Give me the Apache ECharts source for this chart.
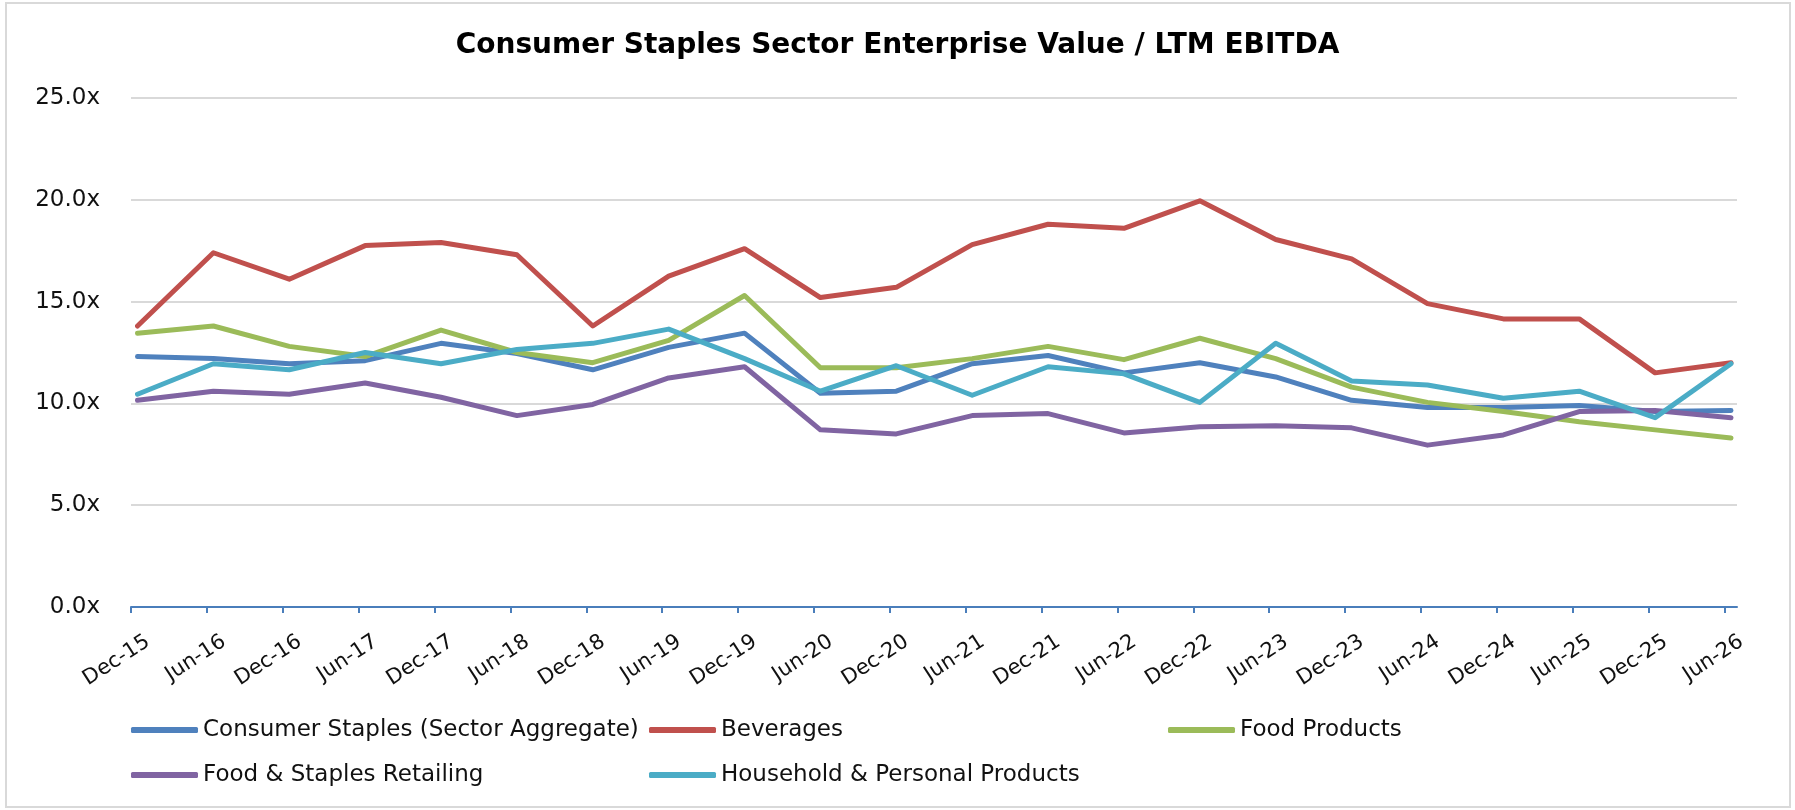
<!DOCTYPE html>
<html>
<head>
<meta charset="utf-8">
<script src="https://cdn.jsdelivr.net/npm/echarts@6/dist/echarts.min.js"></script>
<style>
  html, body { margin: 0; padding: 0; background: #fff; }
  #chart { width: 1795px; height: 810px; }
</style>
</head>
<body>
<div id="chart"></div>
<script>
const periods = ['Dec-15', 'Jun-16', 'Dec-16', 'Jun-17', 'Dec-17', 'Jun-18', 'Dec-18', 'Jun-19', 'Dec-19', 'Jun-20', 'Dec-20',
  'Jun-21', 'Dec-21', 'Jun-22', 'Dec-22', 'Jun-23', 'Dec-23', 'Jun-24', 'Dec-24', 'Jun-25', 'Dec-25', 'Jun-26']

const consumerStaples = [12.3, 12.2, 11.95, 12.1, 12.95, 12.45, 11.65, 12.75, 13.45, 10.5, 10.6,
  11.95, 12.35, 11.5, 12.0, 11.3, 10.15, 9.8, 9.8, 9.9, 9.6, 9.65]
const beverages = [13.8, 17.4, 16.1, 17.75, 17.9, 17.3, 13.8, 16.25, 17.6, 15.2, 15.7,
  17.8, 18.8, 18.6, 19.95, 18.05, 17.1, 14.9, 14.15, 14.15, 11.5, 12.0]
const foodProducts = [13.45, 13.8, 12.8, 12.3, 13.6, 12.5, 12.0, 13.1, 15.3, 11.75, 11.75,
  12.2, 12.8, 12.15, 13.2, 12.2, 10.8, 10.05, 9.6, 9.1, 8.7, 8.3]
const foodRetailing = [10.15, 10.6, 10.45, 11.0, 10.3, 9.4, 9.95, 11.25, 11.8, 8.7, 8.5,
  9.4, 9.5, 8.55, 8.85, 8.9, 8.8, 7.95, 8.45, 9.6, 9.65, 9.3]
const household = [10.45, 11.95, 11.65, 12.5, 11.95, 12.65, 12.95, 13.65, 12.2, 10.6, 11.85,
  10.4, 11.8, 11.45, 10.05, 12.95, 11.1, 10.9, 10.25, 10.6, 9.3, 11.95]

const yTicks = [0, 5, 10, 15, 20, 25]

const seriesDefs = [
  { name: 'Consumer Staples (Sector Aggregate)', data: consumerStaples, color: '#4F81BD' },
  { name: 'Beverages', data: beverages, color: '#C0504D' },
  { name: 'Food Products', data: foodProducts, color: '#9BBB59' },
  { name: 'Food & Staples Retailing', data: foodRetailing, color: '#8064A2' },
  { name: 'Household & Personal Products', data: household, color: '#4BACC6' }
]

const chart = echarts.init(document.getElementById('chart'))

const font = 'DejaVu Sans'
const axisBlue = '#4A7EBB'
const yMin = yTicks[0]
const yMax = yTicks[yTicks.length - 1]

// the Excel chart has its ticks, its points and its labels slightly apart,
// so each of them lives on its own grid of the same height
const plotTop = 98
const plotBottom = 203
const grids = [
  { left: 131, right: 58, top: plotTop, bottom: plotBottom },     // gridlines + axis line
  { left: 131, right: 70.5, top: plotTop, bottom: plotBottom },   // tick marks
  { left: 137.5, right: 64, top: plotTop, bottom: plotBottom },   // data
  { left: 148, right: 53.5, top: plotTop, bottom: plotBottom }    // category labels
]

const legendBase = {
  orient: 'vertical',
  top: 718,
  padding: 0,
  itemWidth: 67,
  itemHeight: 6,
  itemGap: 21,
  icon: 'roundRect',
  textStyle: { fontFamily: font, fontSize: 23, color: '#111', lineHeight: 24 }
}

const hiddenY = i => ({ type: 'value', gridIndex: i, min: yMin, max: yMax, show: false })

const option = {
  backgroundColor: '#fff',
  animation: false,
  title: {
    text: 'Consumer Staples Sector Enterprise Value / LTM EBITDA',
    left: 'center',
    top: 27,
    textStyle: { fontFamily: font, fontSize: 28, fontWeight: 'bold', color: '#000' }
  },
  graphic: [{
    type: 'rect',
    shape: { x: 6, y: 3, width: 1784, height: 804 },
    style: { fill: 'none', stroke: '#d9d9d9', lineWidth: 2 },
    silent: true
  }],
  legend: [
    Object.assign({}, legendBase, { left: 131, data: [seriesDefs[0].name, seriesDefs[3].name] }),
    Object.assign({}, legendBase, { left: 649, data: [seriesDefs[1].name, seriesDefs[4].name] }),
    Object.assign({}, legendBase, { left: 1168, data: [seriesDefs[2].name] })
  ],
  grid: grids,
  xAxis: [
    {
      type: 'category', gridIndex: 0, data: periods, boundaryGap: false,
      axisLine: { lineStyle: { color: axisBlue, width: 2 } },
      axisTick: { show: false },
      axisLabel: { show: false }
    },
    {
      type: 'category', gridIndex: 1, data: periods, boundaryGap: false,
      axisLine: { show: false },
      axisTick: { show: true, interval: 0, length: 6, lineStyle: { color: axisBlue, width: 2 } },
      axisLabel: { show: false }
    },
    { type: 'category', gridIndex: 2, data: periods, boundaryGap: false, show: false },
    {
      type: 'category', gridIndex: 3, data: periods, boundaryGap: false,
      axisLine: { show: false },
      axisTick: { show: false },
      axisLabel: { interval: 0, rotate: 33, margin: 33, fontFamily: font, fontSize: 21, color: '#111' }
    }
  ],
  yAxis: [
    {
      type: 'value',
      gridIndex: 0,
      min: yMin,
      max: yMax,
      interval: 5,
      axisLine: { show: false },
      axisTick: { show: false },
      axisLabel: {
        margin: 31,
        fontFamily: font,
        fontSize: 23,
        color: '#111',
        formatter: v => v.toFixed(1) + 'x'
      },
      splitLine: { lineStyle: { color: '#d9d9d9', width: 2 } }
    },
    hiddenY(1),
    hiddenY(2),
    hiddenY(3)
  ],
  series: seriesDefs.map(s => ({
    name: s.name,
    type: 'line',
    xAxisIndex: 2,
    yAxisIndex: 2,
    data: s.data,
    showSymbol: false,
    color: s.color,
    lineStyle: { width: 5, color: s.color, cap: 'round', join: 'round' },
    emphasis: { disabled: true }
  }))
}

chart.setOption(option)
</script>
</body>
</html>
